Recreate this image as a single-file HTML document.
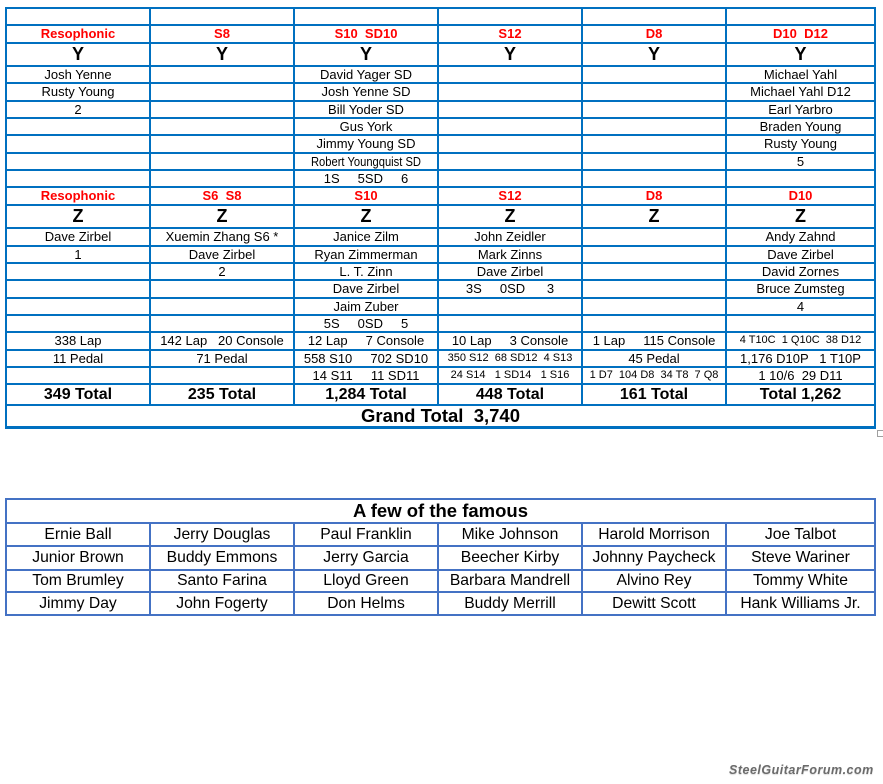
<!DOCTYPE html>
<html>
<head>
<meta charset="utf-8">
<style>
html,body{margin:0;padding:0;background:#fff;}
body{width:883px;height:784px;position:relative;overflow:hidden;font-family:"Liberation Sans",Arial,sans-serif;color:#000;}
.h{position:absolute;background:#0070c0;height:2px;}
.v{position:absolute;background:#0070c0;width:2px;}
.h2{position:absolute;background:#4472c4;height:2px;}
.v2{position:absolute;background:#4472c4;width:2px;}
.r{position:absolute;left:6px;width:869px;display:flex;font-size:13px;white-space:pre;}
.r span{display:block;text-align:center;overflow:visible;}
.r span:nth-child(1),.r span:nth-child(2),.r span:nth-child(3),.r span:nth-child(4),.r span:nth-child(5){width:144px;}
.r span:nth-child(6){width:149px;}
.red{color:#ff0000;font-weight:bold;}
.big{font-size:18px;font-weight:bold;}
.s{font-size:11px;}
.tot{font-size:16px;font-weight:bold;}
.r2{position:absolute;left:6px;width:869px;display:flex;font-size:15.7px;white-space:pre;}
.r2 span{display:block;text-align:center;}
.r2 span:nth-child(1),.r2 span:nth-child(2),.r2 span:nth-child(3),.r2 span:nth-child(4),.r2 span:nth-child(5){width:144px;}
.r2 span:nth-child(6){width:149px;}
.cond{display:inline-block;transform:scaleX(0.86);transform-origin:center;}
</style>
</head>
<body>
<!-- Table 1 horizontal lines -->
<div class="h" style="left:5px;width:871px;top:7px"></div>
<div class="h" style="left:5px;width:871px;top:24px"></div>
<div class="h" style="left:5px;width:871px;top:41.5px"></div>
<div class="h" style="left:5px;width:871px;top:64.5px"></div>
<div class="h" style="left:5px;width:871px;top:82px"></div>
<div class="h" style="left:5px;width:871px;top:99.5px"></div>
<div class="h" style="left:5px;width:871px;top:117px"></div>
<div class="h" style="left:5px;width:871px;top:134px"></div>
<div class="h" style="left:5px;width:871px;top:152px"></div>
<div class="h" style="left:5px;width:871px;top:169px"></div>
<div class="h" style="left:5px;width:871px;top:186.3px"></div>
<div class="h" style="left:5px;width:871px;top:203.5px"></div>
<div class="h" style="left:5px;width:871px;top:226.5px"></div>
<div class="h" style="left:5px;width:871px;top:244.5px"></div>
<div class="h" style="left:5px;width:871px;top:262px"></div>
<div class="h" style="left:5px;width:871px;top:279px"></div>
<div class="h" style="left:5px;width:871px;top:296.5px"></div>
<div class="h" style="left:5px;width:871px;top:314px"></div>
<div class="h" style="left:5px;width:871px;top:331.3px"></div>
<div class="h" style="left:5px;width:871px;top:348.5px"></div>
<div class="h" style="left:5px;width:871px;top:365.8px"></div>
<div class="h" style="left:5px;width:871px;top:383px"></div>
<div class="h" style="left:5px;width:871px;top:404px"></div>
<div class="h" style="left:5px;width:871px;top:426px;height:3px"></div>
<!-- Table 1 vertical lines -->
<div class="v" style="left:5px;top:7px;height:422px"></div>
<div class="v" style="left:149px;top:7px;height:398px"></div>
<div class="v" style="left:293px;top:7px;height:398px"></div>
<div class="v" style="left:437px;top:7px;height:398px"></div>
<div class="v" style="left:581px;top:7px;height:398px"></div>
<div class="v" style="left:725px;top:7px;height:398px"></div>
<div class="v" style="left:874px;top:7px;height:422px"></div>
<!-- resize handle -->
<div style="position:absolute;left:877px;top:430px;width:5px;height:5px;border:1px solid #a0a0a0;border-right:none;"></div>

<!-- Table 1 rows -->
<div class="r red" style="top:25px;height:17.5px;line-height:17.5px"><span>Resophonic</span><span>S8</span><span>S10  SD10</span><span>S12</span><span>D8</span><span>D10  D12</span></div>
<div class="r big" style="top:42.5px;height:23px;line-height:23px"><span>Y</span><span>Y</span><span>Y</span><span>Y</span><span>Y</span><span>Y</span></div>
<div class="r" style="top:65.5px;height:17.5px;line-height:17.5px"><span>Josh Yenne</span><span></span><span>David Yager SD</span><span></span><span></span><span>Michael Yahl</span></div>
<div class="r" style="top:83px;height:17.5px;line-height:17.5px"><span>Rusty Young</span><span></span><span>Josh Yenne SD</span><span></span><span></span><span>Michael Yahl D12</span></div>
<div class="r" style="top:100.5px;height:17.5px;line-height:17.5px"><span>2</span><span></span><span>Bill Yoder SD</span><span></span><span></span><span>Earl Yarbro</span></div>
<div class="r" style="top:118px;height:17px;line-height:17px"><span></span><span></span><span>Gus York</span><span></span><span></span><span>Braden Young</span></div>
<div class="r" style="top:135px;height:18px;line-height:18px"><span></span><span></span><span>Jimmy Young SD</span><span></span><span></span><span>Rusty Young</span></div>
<div class="r" style="top:153px;height:17px;line-height:17px"><span></span><span></span><span><span class="cond">Robert Youngquist SD</span></span><span></span><span></span><span>5</span></div>
<div class="r" style="top:170px;height:17.3px;line-height:17.3px"><span></span><span></span><span>1S     5SD     6</span><span></span><span></span><span></span></div>

<div class="r red" style="top:187.3px;height:17.2px;line-height:17.2px"><span>Resophonic</span><span>S6  S8</span><span>S10</span><span>S12</span><span>D8</span><span>D10</span></div>
<div class="r big" style="top:204.5px;height:23px;line-height:23px"><span>Z</span><span>Z</span><span>Z</span><span>Z</span><span>Z</span><span>Z</span></div>
<div class="r" style="top:227.5px;height:18px;line-height:18px"><span>Dave Zirbel</span><span>Xuemin Zhang S6 *</span><span>Janice Zilm</span><span>John Zeidler</span><span></span><span>Andy Zahnd</span></div>
<div class="r" style="top:245.5px;height:17.5px;line-height:17.5px"><span>1</span><span>Dave Zirbel</span><span>Ryan Zimmerman</span><span>Mark Zinns</span><span></span><span>Dave Zirbel</span></div>
<div class="r" style="top:263px;height:17px;line-height:17px"><span></span><span>2</span><span>L. T. Zinn</span><span>Dave Zirbel</span><span></span><span>David Zornes</span></div>
<div class="r" style="top:280px;height:17.5px;line-height:17.5px"><span></span><span></span><span>Dave Zirbel</span><span>3S     0SD      3</span><span></span><span>Bruce Zumsteg</span></div>
<div class="r" style="top:297.5px;height:17.5px;line-height:17.5px"><span></span><span></span><span>Jaim Zuber</span><span></span><span></span><span>4</span></div>
<div class="r" style="top:315px;height:17.3px;line-height:17.3px"><span></span><span></span><span>5S     0SD     5</span><span></span><span></span><span></span></div>

<div class="r" style="top:332.3px;height:17.2px;line-height:17.2px"><span>338 Lap</span><span>142 Lap   20 Console</span><span>12 Lap     7 Console</span><span>10 Lap     3 Console</span><span>1 Lap     115 Console</span><span class="s">4 T10C  1 Q10C  38 D12</span></div>
<div class="r" style="top:349.5px;height:17.3px;line-height:17.3px"><span>11 Pedal</span><span>71 Pedal</span><span>558 S10     702 SD10</span><span class="s">350 S12  68 SD12  4 S13</span><span>45 Pedal</span><span>1,176 D10P   1 T10P</span></div>
<div class="r" style="top:366.8px;height:17.2px;line-height:17.2px"><span></span><span></span><span>14 S11     11 SD11</span><span class="s">24 S14   1 SD14   1 S16</span><span class="s">1 D7  104 D8  34 T8  7 Q8</span><span>1 10/6  29 D11</span></div>
<div class="r tot" style="top:384px;height:21px;line-height:21px"><span>349 Total</span><span>235 Total</span><span>1,284 Total</span><span>448 Total</span><span>161 Total</span><span>Total 1,262</span></div>
<div style="position:absolute;left:6px;width:869px;top:405px;height:21px;line-height:21px;text-align:center;font-size:18.5px;font-weight:bold;white-space:pre;">Grand Total  3,740</div>

<!-- Table 2 -->
<div class="h2" style="left:5px;width:871px;top:498px"></div>
<div class="h2" style="left:5px;width:871px;top:521.5px"></div>
<div class="h2" style="left:5px;width:871px;top:545px"></div>
<div class="h2" style="left:5px;width:871px;top:568.5px"></div>
<div class="h2" style="left:5px;width:871px;top:591px"></div>
<div class="h2" style="left:5px;width:871px;top:614px"></div>
<div class="v2" style="left:5px;top:498px;height:118px"></div>
<div class="v2" style="left:149px;top:521.5px;height:94px"></div>
<div class="v2" style="left:293px;top:521.5px;height:94px"></div>
<div class="v2" style="left:437px;top:521.5px;height:94px"></div>
<div class="v2" style="left:581px;top:521.5px;height:94px"></div>
<div class="v2" style="left:725px;top:521.5px;height:94px"></div>
<div class="v2" style="left:874px;top:498px;height:118px"></div>

<div style="position:absolute;left:6px;width:869px;top:499px;height:23.5px;line-height:23.5px;text-align:center;font-size:18.5px;font-weight:bold;">A few of the famous</div>
<div class="r2" style="top:522.5px;height:23.5px;line-height:23.5px"><span>Ernie Ball</span><span>Jerry Douglas</span><span>Paul Franklin</span><span>Mike Johnson</span><span>Harold Morrison</span><span>Joe Talbot</span></div>
<div class="r2" style="top:546px;height:23.5px;line-height:23.5px"><span>Junior Brown</span><span>Buddy Emmons</span><span>Jerry Garcia</span><span>Beecher Kirby</span><span>Johnny Paycheck</span><span>Steve Wariner</span></div>
<div class="r2" style="top:569.5px;height:22.5px;line-height:22.5px"><span>Tom Brumley</span><span>Santo Farina</span><span>Lloyd Green</span><span>Barbara Mandrell</span><span>Alvino Rey</span><span>Tommy White</span></div>
<div class="r2" style="top:592px;height:23px;line-height:23px"><span>Jimmy Day</span><span>John Fogerty</span><span>Don Helms</span><span>Buddy Merrill</span><span>Dewitt Scott</span><span>Hank Williams Jr.</span></div>

<!-- watermark -->
<div style="position:absolute;left:729px;top:763px;font-size:12.5px;line-height:14px;font-weight:bold;font-style:italic;color:#6b6b6b;letter-spacing:0.5px;white-space:nowrap;text-shadow:0 1px 1px rgba(0,0,0,0.15);">SteelGuitarForum.com</div>
</body>
</html>
